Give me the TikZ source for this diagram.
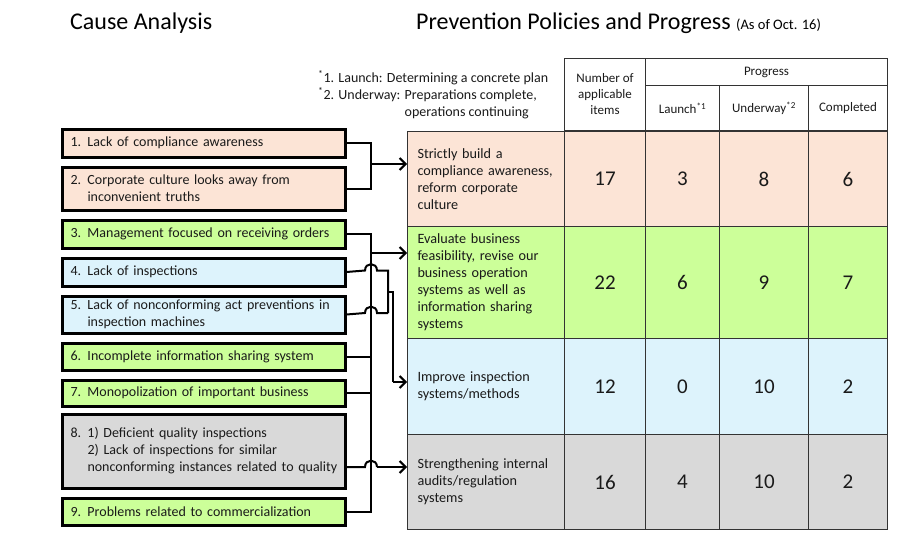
\documentclass[tikz,border=0pt]{standalone}
\usepackage{fontspec}
\setmainfont{Carlito}
\usetikzlibrary{arrows.meta,calc}
\definecolor{peach}{HTML}{FCE4D6}
\definecolor{lgreen}{HTML}{CCFF99}
\definecolor{lblue}{HTML}{DDF3FC}
\definecolor{lgray}{HTML}{D9D9D9}
\definecolor{txt}{HTML}{1A1A1A}
\definecolor{tline}{HTML}{333333}
\newcommand{\fsz}[2]{\fontsize{#1}{#2}\selectfont}
\newcommand{\nbox}[1]{\makebox[17pt][l]{#1}}
\tikzset{
  cause/.style={draw=black, line width=3pt, anchor=north west, minimum width=283pt,
    text width=266pt, inner xsep=8.5pt, inner ysep=0pt, align=left, text=txt,
    font=\fsz{14}{17}},
  conn/.style={line width=2pt, black},
  arr/.style={conn, -{Straight Barb[length=6pt,width=12pt]}},
  cell/.style={draw=tline, line width=1pt, anchor=north west, inner sep=0pt, text=txt},
  pol/.style={cell, minimum width=157pt, text width=149pt, inner xsep=4pt, align=left,
    font=\fsz{14.2}{17}, execute at begin node={\leftskip=6pt}},
  hdr/.style={cell, align=center, font=\fsz{13}{16}},
  num/.style={cell, font=\fsz{21}{24}},
}
\begin{document}
\begin{tikzpicture}[x=1pt,y=-1pt]
\useasboundingbox (0,0) rectangle (901,559);
% titles
\node[anchor=base west, inner sep=0, font=\fsz{24}{28}, text=black] (t1) at (70,30) {Cause Analysis};
\node[anchor=base west, inner sep=0, font=\fsz{24}{28}, text=black] (t2) at (416,30)
  {Prevention Policies and Progress {\fsz{14.5}{16}(As of Oct. 16)}};
% footnotes
\node[anchor=north west, inner sep=0, align=left, font=\fsz{14}{17}, text=txt] (fn) at (318,70)
  {\textsuperscript{*}1. Launch: Determining a concrete plan\\
   \textsuperscript{*}2. Underway: Preparations complete,\\
   \phantom{\textsuperscript{*}2. Underway: }operations continuing};
% cause boxes
\node[cause, fill=peach, minimum height=28pt] (c1) at (60.5,127.5) {\nbox{1.}Lack of compliance awareness};
\node[cause, fill=peach, minimum height=43pt] (c2) at (60.5,165.5) {\nbox{2.}Corporate culture looks away from\\\nbox{}inconvenient truths};
\node[cause, fill=lgreen, minimum height=28pt] (c3) at (60.5,218.5) {\nbox{3.}Management focused on receiving orders};
\node[cause, fill=lblue, minimum height=28pt] (c4) at (60.5,256.5) {\nbox{4.}Lack of inspections};
\node[cause, fill=lblue, minimum height=37pt] (c5) at (60.5,294.5) {\nbox{5.}Lack of nonconforming act preventions in\\\nbox{}inspection machines};
\node[cause, fill=lgreen, minimum height=27pt] (c6) at (60.5,341.5) {\nbox{6.}Incomplete information sharing system};
\node[cause, fill=lgreen, minimum height=26pt] (c7) at (60.5,378.5) {\nbox{7.}Monopolization of important business};
\node[cause, fill=lgray, minimum height=74pt] (c8) at (60.5,412.5) {\mbox{\nbox{8.}1) Deficient quality inspections}\\\mbox{\nbox{}2) Lack of inspections for similar}\\\mbox{\nbox{}nonconforming instances related to quality}};
\node[cause, fill=lgreen, minimum height=27pt] (c9) at (60.5,496.5) {\nbox{9.}Problems related to commercialization};
% table header
\node[hdr, minimum width=81pt, minimum height=72pt] (h1) at (564,58) {Number of\\applicable\\items};
\node[hdr, minimum width=242pt, minimum height=27pt] (h2) at (645,58) {Progress};
\node[hdr, minimum width=74pt, minimum height=45pt] (h3) at (645,85) {Launch\textsuperscript{*1}};
\node[hdr, minimum width=89pt, minimum height=45pt] (h4) at (719,85) {Underway\textsuperscript{*2}};
\node[hdr, minimum width=79pt, minimum height=45pt] (h5) at (808,85) {Completed};
% table rows
\node[pol, fill=peach, minimum height=95pt] (p1) at (407,131) {Strictly build a\\compliance awareness,\\reform corporate\\culture};
\node[pol, fill=lgreen, minimum height=112pt] (p2) at (407,226) {Evaluate business\\feasibility, revise our\\business operation\\systems as well as\\information sharing\\systems};
\node[pol, fill=lblue, minimum height=96pt] (p3) at (407,338) {Improve inspection\\systems/methods};
\node[pol, fill=lgray, minimum height=95pt] (p4) at (407,434) {Strengthening internal\\audits/regulation\\systems};
\foreach \r/\y/\h/\c/\a/\b/\cc/\d in {1/131/95/peach/17/3/8/6, 2/226/112/lgreen/22/6/9/7, 3/338/96/lblue/12/0/10/2, 4/434/95/lgray/16/4/10/2}{
  \node[num, fill=\c, minimum width=81pt, minimum height=\h pt] (n\r a) at (564,\y) {\a};
  \node[num, fill=\c, minimum width=74pt, minimum height=\h pt] (n\r b) at (645,\y) {\b};
  \node[num, fill=\c, minimum width=89pt, minimum height=\h pt] (n\r c) at (719,\y) {\cc};
  \node[num, fill=\c, minimum width=79pt, minimum height=\h pt] (n\r d) at (808,\y) {\d};
}
% connectors
\coordinate (j1) at (371,164);
\coordinate (j2) at (371,253);
\coordinate (j3) at (393,382);
\coordinate (y8) at (0,467);
\draw[conn] (c1.east) -| (j1);
\draw[conn] (c2.east) -| (j1);
\draw[arr] (j1) -- (j1 -| p1.west);
\draw[conn] (c3.east) -- (c3.east -| j2) -- (c9.east -| j2) -- (c9.east);
\draw[conn] (c6.east) -- (c6.east -| j2);
\draw[conn] (c7.east) -- (c7.east -| j2);
\draw[arr] (j2) -- (j2 -| p2.west);
\draw[conn] (c4.east) -- (365,270.5) .. controls (365,262) and (377,262) .. (377,270.5) -- (388,270.5) -- (388,313);
\draw[conn] (c5.east) -- (365,313) .. controls (365,304.5) and (377,304.5) .. (377,313) -- (388,313);
\draw[conn] (388,292) -- (393,292) -- (j3);
\draw[arr] (j3) -- (j3 -| p3.west);
\draw[conn] (c8.east |- y8) -- (365,467) .. controls (365,458.5) and (377,458.5) .. (377,467);
\draw[arr] (377,467) -- (y8 -| p4.west);
\end{tikzpicture}
\end{document}
